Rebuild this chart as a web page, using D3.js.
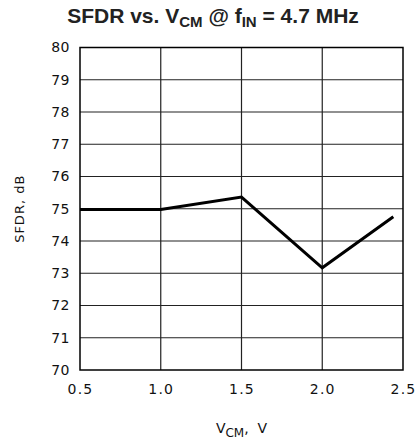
<!DOCTYPE html>
<html><head><meta charset="utf-8">
<script src="https://cdn.jsdelivr.net/npm/d3@7"></script>
<style>body{margin:0;background:#fff}svg{display:block}</style>
</head><body>
<script>
const vcm = [0.5, 1.0, 1.5, 2.0, 2.44];
const sfdr = [74.98, 74.98, 75.36, 73.17, 74.75];
const xTicks = [0.5, 1.0, 1.5, 2.0, 2.5];
const yTicks = [70, 71, 72, 73, 74, 75, 76, 77, 78, 79, 80];

const W = 417, H = 444;
const m = {left: 80, right: 14, top: 47.5, bottom: 74};
const svg = d3.select("body").append("svg").attr("width", W).attr("height", H);
const x = d3.scaleLinear().domain([0.5, 2.5]).range([m.left, W - m.right]);
const y = d3.scaleLinear().domain([70, 80]).range([H - m.bottom, m.top]);
const lf = "'DejaVu Sans', sans-serif";

// grid
svg.append("g").selectAll("line").data(xTicks.slice(1, -1)).join("line")
  .attr("x1", d => x(d)).attr("x2", d => x(d)).attr("y1", y(70)).attr("y2", y(80))
  .attr("stroke", "#222").attr("stroke-width", 1.2);
svg.append("g").selectAll("line").data(yTicks.slice(1, -1)).join("line")
  .attr("x1", x(0.5)).attr("x2", x(2.5)).attr("y1", d => y(d)).attr("y2", d => y(d))
  .attr("stroke", "#222").attr("stroke-width", 1.2);
svg.append("rect").attr("x", x(0.5)).attr("y", y(80)).attr("width", x(2.5) - x(0.5)).attr("height", y(70) - y(80))
  .attr("fill", "none").attr("stroke", "#000").attr("stroke-width", 1.5);

// axes labels
const yAxis = d3.axisLeft(y).tickValues(yTicks).tickSize(0).tickPadding(10).tickFormat(d3.format("d"));
const gy = svg.append("g").attr("transform", `translate(${m.left},0)`).call(yAxis);
gy.select(".domain").remove();
gy.selectAll("text").attr("font-family", lf).attr("font-size", 14).attr("letter-spacing", 0.5).attr("fill", "#111");
const xAxis = d3.axisBottom(x).tickValues(xTicks).tickSize(0).tickPadding(14).tickFormat(d3.format(".1f"));
const gx = svg.append("g").attr("transform", `translate(0,${y(70)})`).call(xAxis);
gx.select(".domain").remove();
gx.selectAll("text").attr("font-family", lf).attr("font-size", 14).attr("letter-spacing", 1.2).attr("fill", "#111");

// data line
svg.append("path").datum(vcm.map((v, i) => [v, sfdr[i]]))
  .attr("d", d3.line().x(d => x(d[0])).y(d => y(d[1])))
  .attr("fill", "none").attr("stroke", "#000").attr("stroke-width", 3).attr("stroke-linejoin", "miter");

// title
const t = svg.append("text").attr("x", 213).attr("y", 23).attr("text-anchor", "middle")
  .attr("font-family", "'Liberation Sans', Arial, sans-serif").attr("font-weight", "bold").attr("font-size", 21).attr("fill", "#222");
t.append("tspan").text("SFDR vs. V");
t.append("tspan").text("CM").attr("font-size", 15).attr("dy", 4);
t.append("tspan").text(" @ f").attr("dy", -4);
t.append("tspan").text("IN").attr("font-size", 15).attr("dy", 4);
t.append("tspan").text(" = 4.7 MHz").attr("dy", -4);

// x label
const xl = svg.append("text").attr("x", x(1.5)).attr("y", 433).attr("text-anchor", "middle")
  .attr("font-family", lf).attr("font-size", 14).attr("fill", "#111");
xl.append("tspan").text("V");
xl.append("tspan").text("CM").attr("font-size", 12).attr("dy", 4);
xl.append("tspan").text(",\u00a0\u00a0V").attr("dy", -4);

// y label
svg.append("text").attr("transform", `translate(24,${y(75)}) rotate(-90)`).attr("text-anchor", "middle")
  .attr("font-family", lf).attr("font-size", 13).attr("letter-spacing", 1).attr("fill", "#111").text("SFDR, dB");
</script>
</body></html>
